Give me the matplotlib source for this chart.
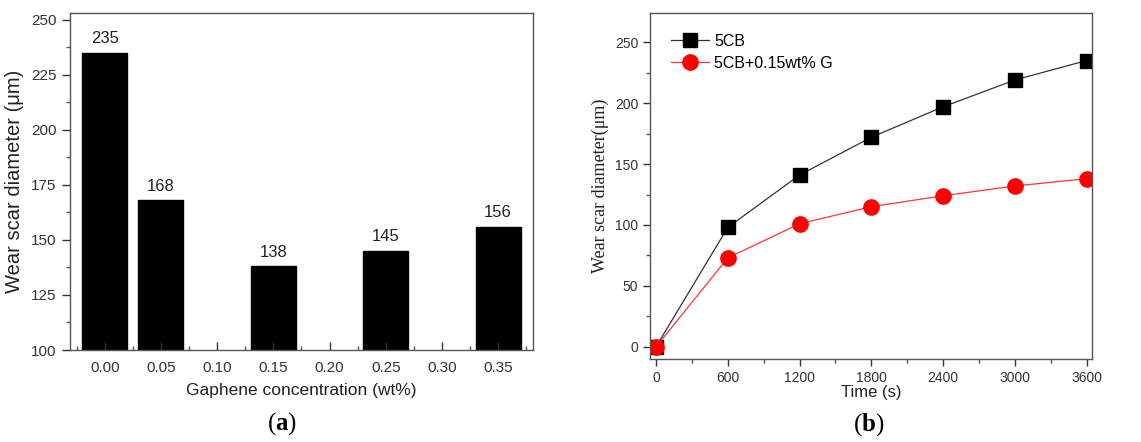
import numpy as np
import matplotlib
matplotlib.use("Agg")
import matplotlib.pyplot as plt
from matplotlib.ticker import MultipleLocator

# (a) wear scar vs graphene concentration
conc = [0.00, 0.05, 0.15, 0.25, 0.35]
scar = [235, 168, 138, 145, 156]

# (b) wear scar vs time
time_s = [0, 600, 1200, 1800, 2400, 3000, 3600]
scar_5cb = [0, 98, 141, 172, 197, 219, 235]
scar_g = [0, 73, 101, 115, 124, 132, 138]

plt.rcParams["font.family"] = ["Liberation Sans", "DejaVu Sans"]
plt.rcParams["mathtext.fontset"] = "custom"
plt.rcParams["mathtext.rm"] = "Liberation Serif"
plt.rcParams["mathtext.bf"] = "Liberation Serif:bold"
serif = ["Liberation Serif", "DejaVu Serif"]

fig = plt.figure(figsize=(11.41, 4.42), dpi=100)
ax1 = fig.add_axes([0.0613, 0.2081, 0.4058, 0.7625])
ax2 = fig.add_axes([0.5697, 0.1878, 0.3874, 0.7828])

for ax in (ax1, ax2):
    for s in ax.spines.values():
        s.set_color("#555555")
        s.set_linewidth(1.0)
    ax.tick_params(colors="#333333", width=1.0)
    ax.tick_params(which="minor", width=1.0, color="#555555")

# ---- (a) ----
ax1.bar(conc, scar, width=0.04, color="black", edgecolor="black")
for x, y in zip(conc, scar):
    ax1.text(x, y + 3, str(y), ha="center", va="bottom", fontsize=12, color="#222222")
ax1.set_xlim(-0.031, 0.381)
ax1.set_ylim(100, 253)
ax1.set_xticks(np.arange(0, 0.36, 0.05))
ax1.set_xticklabels([f"{v:.2f}" for v in np.arange(0, 0.36, 0.05)])
ax1.xaxis.set_minor_locator(MultipleLocator(0.025))
ax1.yaxis.set_major_locator(MultipleLocator(25))
ax1.yaxis.set_minor_locator(MultipleLocator(12.5))
ax1.tick_params(labelsize=11)
ax1.tick_params(axis="x", which="major", direction="in", length=6, pad=8)
ax1.tick_params(axis="x", which="minor", direction="in", length=3)
ax1.tick_params(axis="y", which="major", direction="out", length=6)
ax1.tick_params(axis="y", which="minor", direction="out", length=3)
ax1.set_xlabel("Gaphene concentration (wt%)", fontsize=12.5, color="#222222", labelpad=6)
ax1.set_ylabel("Wear scar diameter (\u03bcm)", fontsize=14.5, color="#222222", labelpad=5)

# ---- (b) ----
ax2.plot(time_s, scar_5cb, "-s", color="#333333", lw=0.9, mfc="black", mec="black",
         ms=10, label="5CB")
ax2.plot(time_s, scar_g, "-o", color="#ff3333", lw=0.9, mfc="red", mec="red",
         ms=11, label="5CB+0.15wt% G")
ax2.set_xlim(-50, 3645)
ax2.set_ylim(-10, 274)
ax2.set_xticks(time_s)
ax2.xaxis.set_minor_locator(MultipleLocator(300))
ax2.yaxis.set_major_locator(MultipleLocator(50))
ax2.yaxis.set_minor_locator(MultipleLocator(25))
ax2.tick_params(labelsize=10)
ax2.tick_params(which="major", direction="out", length=5)
ax2.tick_params(which="minor", direction="out", length=3)
ax2.set_xlabel("Time (s)", fontsize=12, color="#222222", labelpad=0)
ax2.set_ylabel("Wear scar diameter(\u03bcm)", fontsize=13, color="#222222",
               family=serif, labelpad=4)
ax2.legend(loc="upper left", frameon=False, fontsize=11.5, handlelength=2.4,
           borderaxespad=0.9, handletextpad=0.3, labelspacing=0.45)

fig.text(0.2475, 0.042, r"($\mathbf{a}$)", ha="center", va="center", fontsize=18,
         family=serif)
fig.text(0.7615, 0.040, r"($\mathbf{b}$)", ha="center", va="center", fontsize=18,
         family=serif)

fig.savefig("out.png", dpi=100)
